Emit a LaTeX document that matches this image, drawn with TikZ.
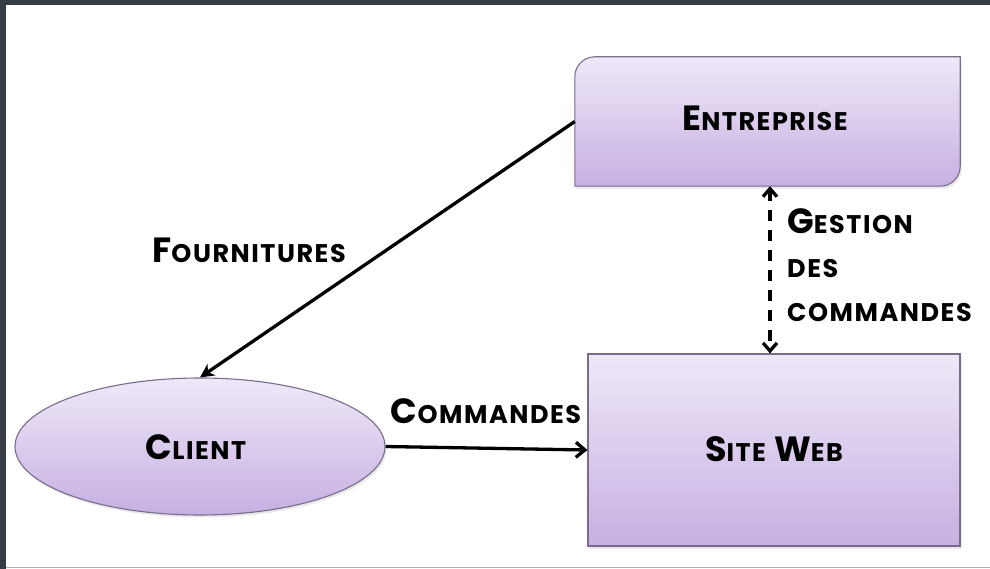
\documentclass[tikz,border=0pt]{standalone}
\usepackage{fontspec}
\setmainfont{Poppins}[LetterSpace=6]
\usetikzlibrary{shapes.geometric,arrows.meta,shadows}
\definecolor{frame}{HTML}{363D43}
\definecolor{boxline}{HTML}{7B6C8E}
\definecolor{boxtop}{HTML}{EFE8F8}
\definecolor{boxbot}{HTML}{C6B0E2}
\newcommand\BigSC[2]{{\fontsize{35}{35}\selectfont #1}{\fontsize{25.5}{25.5}\selectfont #2}}
\tikzset{
  shape box/.style={draw=boxline, line width=1.1pt, top color=boxtop, bottom color=boxbot,
    drop shadow={opacity=0.18, shadow xshift=1.5pt, shadow yshift=-2.5pt}},
  lbl/.style={font=\bfseries, text=black, inner sep=0pt},
  conn/.style={line width=3.3pt, black},
}
\begin{document}
\begin{tikzpicture}[x=1pt,y=-1pt]
\useasboundingbox (0,0) rectangle (990,569);
\fill[white] (0,0) rectangle (990,569);
\fill[frame] (0,0) rectangle (990,5);
\fill[frame] (0,0) rectangle (6,569);
\draw[gray!60, line width=1.5pt] (6,567.5) -- (990,567.5);

% Entreprise box (rounded top-left and bottom-right)
\node[minimum width=385pt, minimum height=129pt, inner sep=0pt] (ent) at (767.5,121.5) {};
\path[shape box] (ent.west) [rounded corners=20pt] -- (ent.north west) -- (ent.north) [sharp corners] -- (ent.north east) -- (ent.east) [rounded corners=20pt] -- (ent.south east) -- (ent.south) [sharp corners] -- (ent.south west) -- cycle;
\node[lbl] (enttxt) at (765,118) {\BigSC{E}{NTREPRISE}};

% Site Web box
\node[shape box, rectangle, minimum width=372pt, minimum height=192pt, inner sep=0pt] (site) at (774,450) {};
\node[lbl] (sitetxt) at (774,449.5) {\BigSC{S}{ITE}\hspace{8pt}\BigSC{W}{EB}};

% Client ellipse
\node[shape box, ellipse, minimum width=370pt, minimum height=137pt, inner sep=0pt] (client) at (200,446.5) {};
\node[lbl] (clienttxt) at (196,447) {\BigSC{C}{LIENT}};

% connectors
\draw[conn, -{Stealth[length=14pt,width=14pt]}] (ent.west) -- (client.north);
\draw[conn, -{Straight Barb[length=9pt,width=15pt]}] (client.east) -- (site.west);
\coordinate (gx) at (770,0);
\draw[conn, dash pattern=on 11pt off 9pt, {Straight Barb[length=8pt,width=14pt]}-{Straight Barb[length=8pt,width=14pt]}] (ent.south -| gx) -- (site.north -| gx);

% labels
\node[lbl] (fourn) at (249,250) {\BigSC{F}{OURNITURES}};
\node[lbl] (cmd) at (486,411) {\BigSC{C}{OMMANDES}};
\node[lbl, anchor=base west] (gest1) at (787,234) {\BigSC{G}{ESTION}};
\node[lbl, anchor=base west] (gest2) at (787,278) {\fontsize{25.5}{25.5}\selectfont DES};
\node[lbl, anchor=base west] (gest3) at (787,321) {\fontsize{25.5}{25.5}\selectfont COMMANDES};
\end{tikzpicture}
\end{document}
